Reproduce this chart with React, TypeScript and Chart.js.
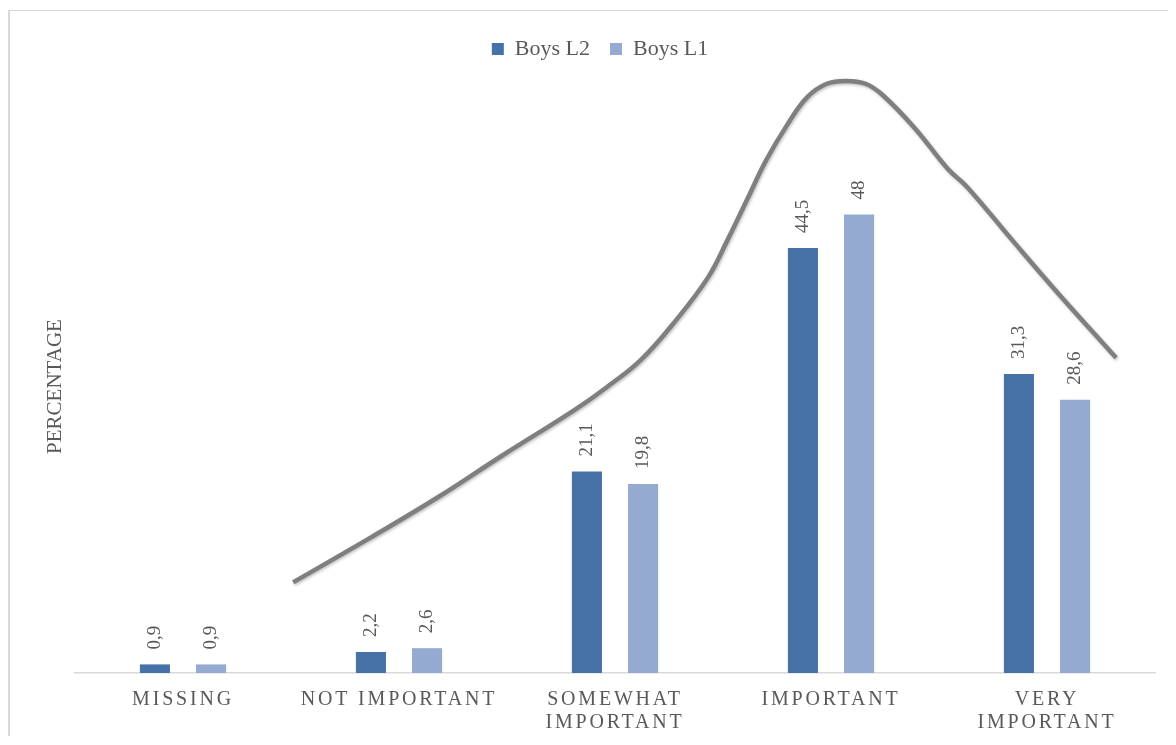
import React, { useEffect, useRef } from "react";
import { Chart, registerables } from "chart.js";

Chart.register(...registerables);

// Answer categories (two-line labels are given as arrays)
const CATEGORIES: (string | string[])[] = [
  "MISSING",
  "NOT IMPORTANT",
  ["SOMEWHAT", "IMPORTANT"],
  "IMPORTANT",
  ["VERY", "IMPORTANT"],
];

// Percentages per group
const SERIES_NAMES = ["Boys L2", "Boys L1"];
const BOYS_L2 = [0.9, 2.2, 21.1, 44.5, 31.3];
const BOYS_L1 = [0.9, 2.6, 19.8, 48, 28.6];

// Hand-drawn trend curve, in category units (x) and percentage units (y)
const TREND_X = [0.51, 0.87, 1.18, 1.48, 1.81, 1.96, 2.12, 2.27, 2.43, 2.52, 2.61, 2.7, 2.8, 2.89, 2.98, 3.07, 3.16, 3.24, 3.39, 3.54, 3.63, 3.84, 4.05, 4.32];
const TREND_Y = [9.5, 14.2, 18.4, 22.8, 27.5, 29.9, 32.8, 36.6, 41.4, 45.3, 49.5, 53.7, 57.5, 60.3, 61.7, 62.0, 61.7, 60.5, 57.0, 52.8, 50.9, 45.3, 39.8, 33.0];

const Y_TITLE = "PERCENTAGE";
const Y_MAX = 60;

const SERIF = "'Liberation Serif', 'Times New Roman', serif";
const TEXT_COLOR = "#595959";
const L2_COLOR = "#4672A7";
const L1_COLOR = "#95AAD0";
const CURVE_COLOR = "#7F7F7F";
const AXIS_COLOR = "#D9D9D9";

const LEGEND_GAP = 30;
const LEGEND_SHIFT = 17.5;
const TICK_LETTER_SPACING = "2.8px";

// Formats a value with a decimal comma
const fmt = (v: number) => String(v).replace(".", ",");

// Rotated value labels above each bar
const barValueLabels = {
  id: "barValueLabels",
  afterDatasetsDraw(chart: any) {
    const ctx = chart.ctx as CanvasRenderingContext2D;
    ctx.save();
    ctx.font = `19px ${SERIF}`;
    ctx.fillStyle = TEXT_COLOR;
    ctx.textAlign = "left";
    ctx.textBaseline = "middle";
    [0, 1].forEach((di) => {
      const meta = chart.getDatasetMeta(di);
      const values = chart.data.datasets[di].data as { x: number; y: number }[];
      meta.data.forEach((el: any, i: number) => {
        ctx.save();
        ctx.translate(el.x, el.y - 15);
        ctx.rotate(-Math.PI / 2);
        ctx.fillText(fmt(values[i].y), 0, 0);
        ctx.restore();
      });
    });
    ctx.restore();
  },
};

// Soft shadow under the trend curve
const curveShadow = {
  id: "curveShadow",
  beforeDatasetDraw(chart: any, args: any) {
    if (args.index !== 2) return;
    const ctx = chart.ctx as CanvasRenderingContext2D;
    ctx.save();
    ctx.shadowColor = "rgba(0,0,0,0.25)";
    ctx.shadowBlur = 3;
    ctx.shadowOffsetX = 1;
    ctx.shadowOffsetY = 1.5;
  },
  afterDatasetDraw(chart: any, args: any) {
    if (args.index !== 2) return;
    chart.ctx.restore();
  },
};

// Extra room under the legend, legend centring, and spaced-out category labels
const layoutTweaks = {
  id: "layoutTweaks",
  afterInit(chart: any) {
    const legend = chart.legend;
    if (!legend) return;
    const fit = legend.fit;
    legend.fit = function (this: any) {
      fit.call(this);
      this.height += LEGEND_GAP;
    };
  },
  afterLayout(chart: any) {
    const legend = chart.legend;
    if (legend) {
      legend.left += LEGEND_SHIFT;
      legend.right += LEGEND_SHIFT;
    }
    const xs = chart.scales.x;
    if (xs && !xs.__spaced) {
      const draw = xs.drawLabels;
      xs.drawLabels = function (this: any, area: any) {
        const c = this.ctx;
        c.save();
        c.letterSpacing = TICK_LETTER_SPACING;
        draw.call(this, area);
        c.restore();
      };
      xs.__spaced = true;
    }
  },
};

export default function App() {
  const ref = useRef<HTMLCanvasElement>(null);

  useEffect(() => {
    if (!ref.current) return;
    const chart = new Chart(ref.current, {
      type: "bar",
      data: {
        datasets: [
          {
            type: "bar",
            label: SERIES_NAMES[0],
            data: BOYS_L2.map((y, i) => ({ x: i, y })),
            backgroundColor: L2_COLOR,
            categoryPercentage: 0.52,
            barPercentage: 0.536,
          },
          {
            type: "bar",
            label: SERIES_NAMES[1],
            data: BOYS_L1.map((y, i) => ({ x: i, y })),
            backgroundColor: L1_COLOR,
            categoryPercentage: 0.52,
            barPercentage: 0.536,
          },
          {
            type: "line",
            label: "trend",
            data: TREND_X.map((x, i) => ({ x, y: TREND_Y[i] })),
            borderColor: CURVE_COLOR,
            borderWidth: 4.5,
            borderCapStyle: "butt",
            borderJoinStyle: "round",
            pointRadius: 0,
            tension: 0.4,
            fill: false,
            clip: false,
          } as any,
        ],
      },
      options: {
        responsive: false,
        animation: false,
        layout: { padding: { top: 7, left: 0, right: 13, bottom: 0 } },
        plugins: {
          legend: {
            position: "top",
            labels: {
              font: { family: SERIF, size: 22 },
              color: TEXT_COLOR,
              boxWidth: 12,
              boxHeight: 12,
              padding: 20,
              filter: (item: any) => item.datasetIndex < 2,
            },
          },
          tooltip: { enabled: false },
        },
        scales: {
          x: {
            type: "linear",
            min: -0.5,
            max: 4.5,
            offset: false,
            grid: { display: false, drawTicks: false, offset: false },
            border: { display: true, color: AXIS_COLOR, width: 1.5 },
            afterBuildTicks: (s: any) => {
              s.ticks = CATEGORIES.map((_, i) => ({ value: i }));
            },
            ticks: {
              font: { family: SERIF, size: 20, lineHeight: 1.17 },
              color: TEXT_COLOR,
              padding: 15,
              maxRotation: 0,
              autoSkip: false,
              callback: (_v: any, i: number) => CATEGORIES[i],
            },
            afterFit: (s: any) => {
              s.height = 63;
            },
          },
          y: {
            type: "linear",
            min: 0,
            max: Y_MAX,
            grid: { display: false, drawTicks: false },
            border: { display: false },
            ticks: { display: false },
            title: {
              display: true,
              text: Y_TITLE,
              font: { family: SERIF, size: 21 },
              color: TEXT_COLOR,
              padding: { top: 33, bottom: 0 },
            },
            afterFit: (s: any) => {
              s.width = 65;
            },
          },
        },
      } as any,
      plugins: [layoutTweaks, barValueLabels, curveShadow],
    });
    return () => chart.destroy();
  }, []);

  return (
    <div style={{ paddingTop: 2 }}>
      <div
        style={{
          borderTop: `1px solid ${AXIS_COLOR}`,
          borderLeft: `2px solid ${AXIS_COLOR}`,
          width: 1158,
          background: "#fff",
        }}
      >
        <canvas ref={ref} width={1158} height={725} style={{ display: "block" }} />
      </div>
    </div>
  );
}
